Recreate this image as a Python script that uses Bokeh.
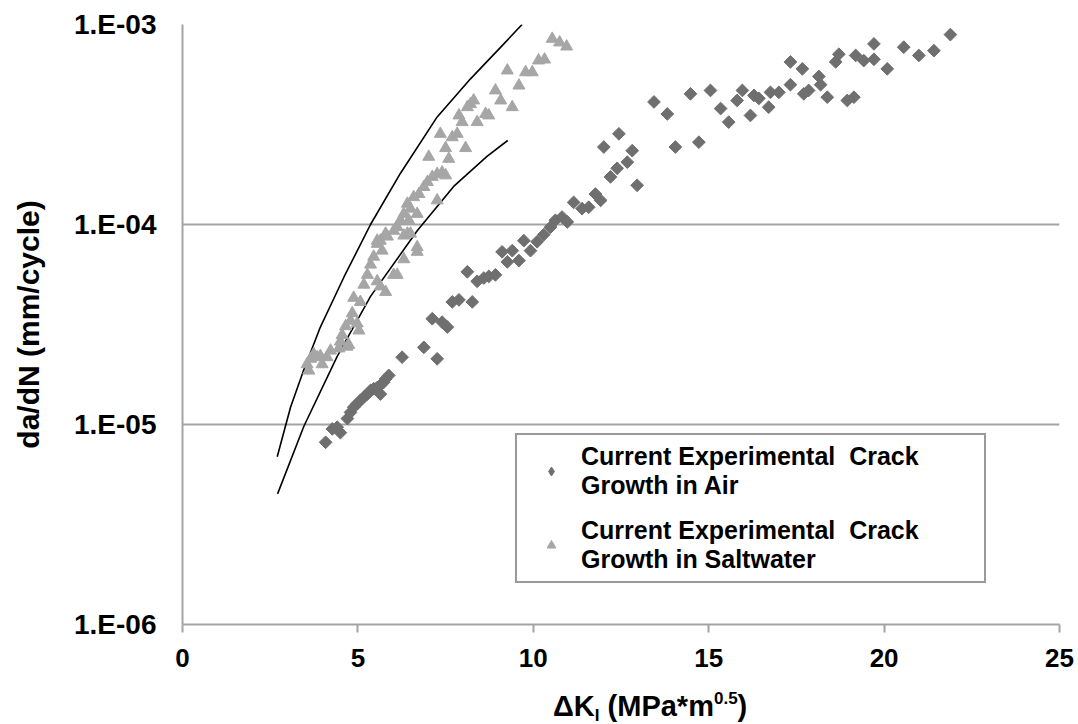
import numpy as np
from bokeh.plotting import figure
from bokeh.layouts import column
from bokeh.models import (FixedTicker, CustomJSTickFormatter, Legend, LegendItem,
                          Range1d, Div)
from bokeh.embed import file_html
from bokeh.resources import INLINE

# ---------------- data ----------------
air_dk = [4.08, 4.27, 4.41, 4.50, 4.70, 4.79, 4.88, 4.98, 5.07, 5.17, 5.27, 5.36,
          5.45, 5.55, 5.64, 5.74, 5.79, 5.88, 5.64, 6.26, 6.88, 7.26, 7.12, 7.40,
          7.55, 7.69, 7.88, 8.26, 8.12, 8.40, 8.59, 8.73, 8.92, 9.11, 9.40, 9.26,
          9.59, 9.73, 9.92, 10.11, 10.30, 10.49, 10.63, 10.82, 10.97, 11.15, 11.39,
          11.58, 11.77, 11.92, 12.20, 12.39, 12.68, 12.82, 12.96, 12.01, 12.44,
          13.44, 13.82, 14.05, 14.72, 14.48, 15.05, 15.34, 15.57, 15.81, 15.96,
          16.19, 16.29, 16.43, 16.71, 16.76, 17.00, 17.33, 17.67, 17.33, 17.71,
          17.85, 18.14, 18.19, 18.38, 18.62, 18.71, 18.95, 19.14, 19.19, 19.42,
          19.71, 19.71, 20.09, 20.56, 20.99, 21.42, 21.89]
air_dadn = [8.15e-6, 9.5e-6, 9.7e-6, 9.1e-6, 1.07e-5, 1.15e-5, 1.22e-5, 1.27e-5,
            1.32e-5, 1.37e-5, 1.42e-5, 1.48e-5, 1.51e-5, 1.53e-5, 1.57e-5, 1.63e-5,
            1.69e-5, 1.76e-5, 1.42e-5, 2.17e-5, 2.43e-5, 2.13e-5, 3.38e-5, 3.25e-5,
            3.07e-5, 4.1e-5, 4.2e-5, 4.1e-5, 5.8e-5, 5.2e-5, 5.4e-5, 5.5e-5, 5.6e-5,
            7.3e-5, 7.4e-5, 6.5e-5, 6.6e-5, 8.3e-5, 7.4e-5, 8.2e-5, 8.9e-5, 9.7e-5,
            1.05e-4, 1.09e-4, 1.03e-4, 1.29e-4, 1.20e-4, 1.22e-4, 1.42e-4, 1.32e-4,
            1.73e-4, 1.91e-4, 2.05e-4, 2.34e-4, 1.57e-4, 2.44e-4, 2.84e-4, 4.1e-4,
            3.57e-4, 2.44e-4, 2.58e-4, 4.5e-4, 4.68e-4, 3.8e-4, 3.25e-4, 4.17e-4,
            4.68e-4, 3.51e-4, 4.42e-4, 4.27e-4, 3.86e-4, 4.58e-4, 4.58e-4, 6.5e-4,
            6.0e-4, 5.0e-4, 4.5e-4, 4.68e-4, 5.5e-4, 5.0e-4, 4.33e-4, 6.5e-4, 7.1e-4,
            4.17e-4, 4.33e-4, 7.0e-4, 6.6e-4, 6.7e-4, 8.0e-4, 6.0e-4, 7.7e-4, 7.0e-4,
            7.4e-4, 8.9e-4]

salt_dk = [10.54, 10.75, 10.95, 10.15, 10.32, 9.26, 9.78, 9.97, 9.59, 8.92, 9.07,
           9.40, 8.21, 8.30, 8.12, 7.88, 7.97, 8.40, 8.64, 8.73, 7.35, 7.69, 7.83,
           7.50, 8.07, 7.02, 7.59, 7.26, 7.40, 7.12, 6.98, 6.88, 7.50, 6.74, 6.59,
           7.26, 6.41, 6.50, 6.31, 6.69, 6.45, 6.21, 6.12, 6.02, 5.79, 5.64, 5.55,
           6.41, 6.69, 5.55, 5.69, 5.45, 5.36, 5.27, 5.17, 5.84, 6.31, 6.50, 6.69,
           6.31, 6.12, 6.02, 5.79, 5.55, 5.64, 4.88, 5.07, 4.84, 4.79, 4.65, 4.55,
           4.50, 4.46, 4.98, 5.03, 4.74, 4.69, 4.22, 4.12, 3.93, 3.84, 3.74, 3.65,
           3.55, 3.60, 3.98]
salt_dadn = [8.48e-4, 8.13e-4, 7.76e-4, 6.61e-4, 6.68e-4, 5.89e-4, 5.77e-4, 5.77e-4,
             4.95e-4, 4.68e-4, 4.17e-4, 3.86e-4, 4.0e-4, 4.17e-4, 3.86e-4, 3.51e-4,
             3.25e-4, 3.25e-4, 3.57e-4, 3.51e-4, 2.84e-4, 2.73e-4, 2.84e-4, 2.41e-4,
             2.41e-4, 2.18e-4, 2.13e-4, 1.79e-4, 1.82e-4, 1.73e-4, 1.63e-4, 1.54e-4,
             1.76e-4, 1.42e-4, 1.37e-4, 1.32e-4, 1.27e-4, 1.20e-4, 1.13e-4, 1.13e-4,
             1.05e-4, 1.05e-4, 9.7e-5, 9.3e-5, 9.0e-5, 8.3e-5, 8.3e-5, 9.0e-5, 7.7e-5,
             8.0e-5, 7.4e-5, 6.9e-5, 6.3e-5, 5.6e-5, 5.0e-5, 8.7e-5, 8.8e-5, 9.0e-5,
             7.3e-5, 6.7e-5, 5.6e-5, 5.6e-5, 4.6e-5, 5.2e-5, 4.9e-5, 4.3e-5, 4.1e-5,
             3.6e-5, 3.3e-5, 3.1e-5, 2.8e-5, 2.6e-5, 2.4e-5, 3.2e-5, 2.95e-5, 2.5e-5,
             2.45e-5, 2.34e-5, 2.17e-5, 2.2e-5, 2.17e-5, 2.25e-5, 2.13e-5, 2.0e-5,
             1.86e-5, 2.0e-5]

upper_dk = [2.70, 3.08, 3.45, 3.93, 4.60, 5.36, 6.21, 7.26, 8.21, 9.16, 9.68]
upper_dadn = [6.9e-6, 1.22e-5, 1.86e-5, 3.07e-5, 5.45e-5, 1.0e-4, 1.8e-4, 3.45e-4,
              5.35e-4, 8.0e-4, 1.0e-3]
lower_dk = [2.71, 3.46, 4.41, 5.36, 6.69, 7.73, 8.68, 9.27]
lower_dadn = [4.5e-6, 9.8e-6, 2.19e-5, 4.37e-5, 9.3e-5, 1.55e-4, 2.19e-4, 2.63e-4]

x_ticks = [0, 5, 10, 15, 20, 25]
y_ticks = [1e-6, 1e-5, 1e-4, 1e-3]
y_tick_labels = ["1.E-06", "1.E-05", "1.E-04", "1.E-03"]
legend_labels = ["Current Experimental  Crack\nGrowth in Air",
                 "Current Experimental  Crack\nGrowth in Saltwater"]
y_title = "da/dN (mm/cycle)"
x_title_html = ('\u0394K<sub style="font-size:17px;vertical-align:-5px">I</sub>'
                '&nbsp;(MPa*m<sup style="font-size:17px;vertical-align:12px">0.5</sup>)')

# ---------------- figure ----------------
FONT = "Liberation Sans"
p = figure(width=1078, height=684, x_range=Range1d(0, 25), y_range=Range1d(1e-6, 1e-3),
           y_axis_type="log", output_backend="svg", toolbar_location=None,
           min_border_left=182, min_border_right=19, min_border_top=24,
           min_border_bottom=60)
p.outline_line_color = None
p.background_fill_color = "white"
p.border_fill_color = "white"

p.xgrid.visible = False
p.ygrid.grid_line_color = "#a3a3a3"
p.ygrid.grid_line_width = 2

# x axis
xa = p.xaxis[0]
xa.ticker = FixedTicker(ticks=x_ticks)
xa.axis_line_color = "#a3a3a3"
xa.axis_line_width = 2
xa.major_tick_line_color = "#a3a3a3"
xa.major_tick_line_width = 2
xa.major_tick_out = 8
xa.major_tick_in = 0
xa.minor_tick_line_color = None
xa.major_label_text_font = FONT
xa.major_label_text_font_style = "bold"
xa.major_label_text_font_size = "26px"
xa.major_label_text_color = "black"
xa.major_label_standoff = 16

# y axis
ya = p.yaxis[0]
ya.ticker = FixedTicker(ticks=y_ticks)
ya.formatter = CustomJSTickFormatter(args=dict(vals=y_ticks, labs=y_tick_labels), code="""
    let best = 0, d = 1e9;
    for (let i = 0; i < vals.length; i++) {
        const dd = Math.abs(Math.log10(vals[i]) - Math.log10(tick));
        if (dd < d) { d = dd; best = i; }
    }
    return labs[best];
""")
ya.axis_line_color = "#a3a3a3"
ya.axis_line_width = 2
ya.major_tick_line_color = None
ya.minor_tick_line_color = None
ya.major_tick_out = 0
ya.major_tick_in = 0
ya.major_label_text_font = FONT
ya.major_label_text_font_style = "bold"
ya.major_label_text_font_size = "28px"
ya.major_label_text_color = "black"
ya.major_label_standoff = 26
ya.axis_label = y_title
ya.axis_label_text_font = FONT
ya.axis_label_text_font_style = "bold"
ya.axis_label_text_font_size = "30px"
ya.axis_label_text_color = "black"
ya.axis_label_standoff = 26

# model curves
p.line(upper_dk, upper_dadn, line_color="black", line_width=1.6)
p.line(lower_dk, lower_dadn, line_color="black", line_width=1.6)

# data
AIR_C = "#6f6f6f"
SALT_C = "#a6a6a6"
r_air = p.scatter(air_dk, air_dadn, marker="square", angle=np.pi / 4, size=9,
                  fill_color=AIR_C, line_color=AIR_C)
r_salt = p.scatter(salt_dk, salt_dadn, marker="triangle", size=12,
                   fill_color=SALT_C, line_color=SALT_C)
# legend-key glyph only (a NaN point is never drawn in the plot area)
r_air_key = p.scatter([float("nan")], [float("nan")], marker="diamond", size=12,
                      fill_color=AIR_C, line_color=AIR_C)

legend = Legend(items=[LegendItem(label=legend_labels[0], renderers=[r_air_key]),
                       LegendItem(label=legend_labels[1], renderers=[r_salt])],
                location=(333, 41))
legend.label_text_font = FONT
legend.label_text_font_style = "bold"
legend.label_text_font_size = "25px"
legend.label_text_color = "black"
legend.label_text_line_height = 1.4
legend.padding = 7
legend.spacing = 16
legend.margin = 0
legend.glyph_width = 54
legend.glyph_height = 22
legend.label_standoff = 3
legend.label_width = 396
legend.border_line_color = "#333333"
legend.border_line_width = 2
legend.background_fill_color = "white"
legend.background_fill_alpha = 1
p.add_layout(legend, "center")

# x axis title (with subscript / superscript) as real HTML text below the plot
xdiv = Div(text=x_title_html, width=1078, height=40, margin=0,
           styles={"font-family": FONT, "font-weight": "bold", "font-size": "29px",
                   "line-height": "30px", "padding-left": "553px", "color": "black",
                   "white-space": "nowrap", "box-sizing": "border-box",
                   "overflow": "visible"})

layout = column(p, xdiv, spacing=0)
open("out.html", "w").write(file_html(layout, INLINE))
